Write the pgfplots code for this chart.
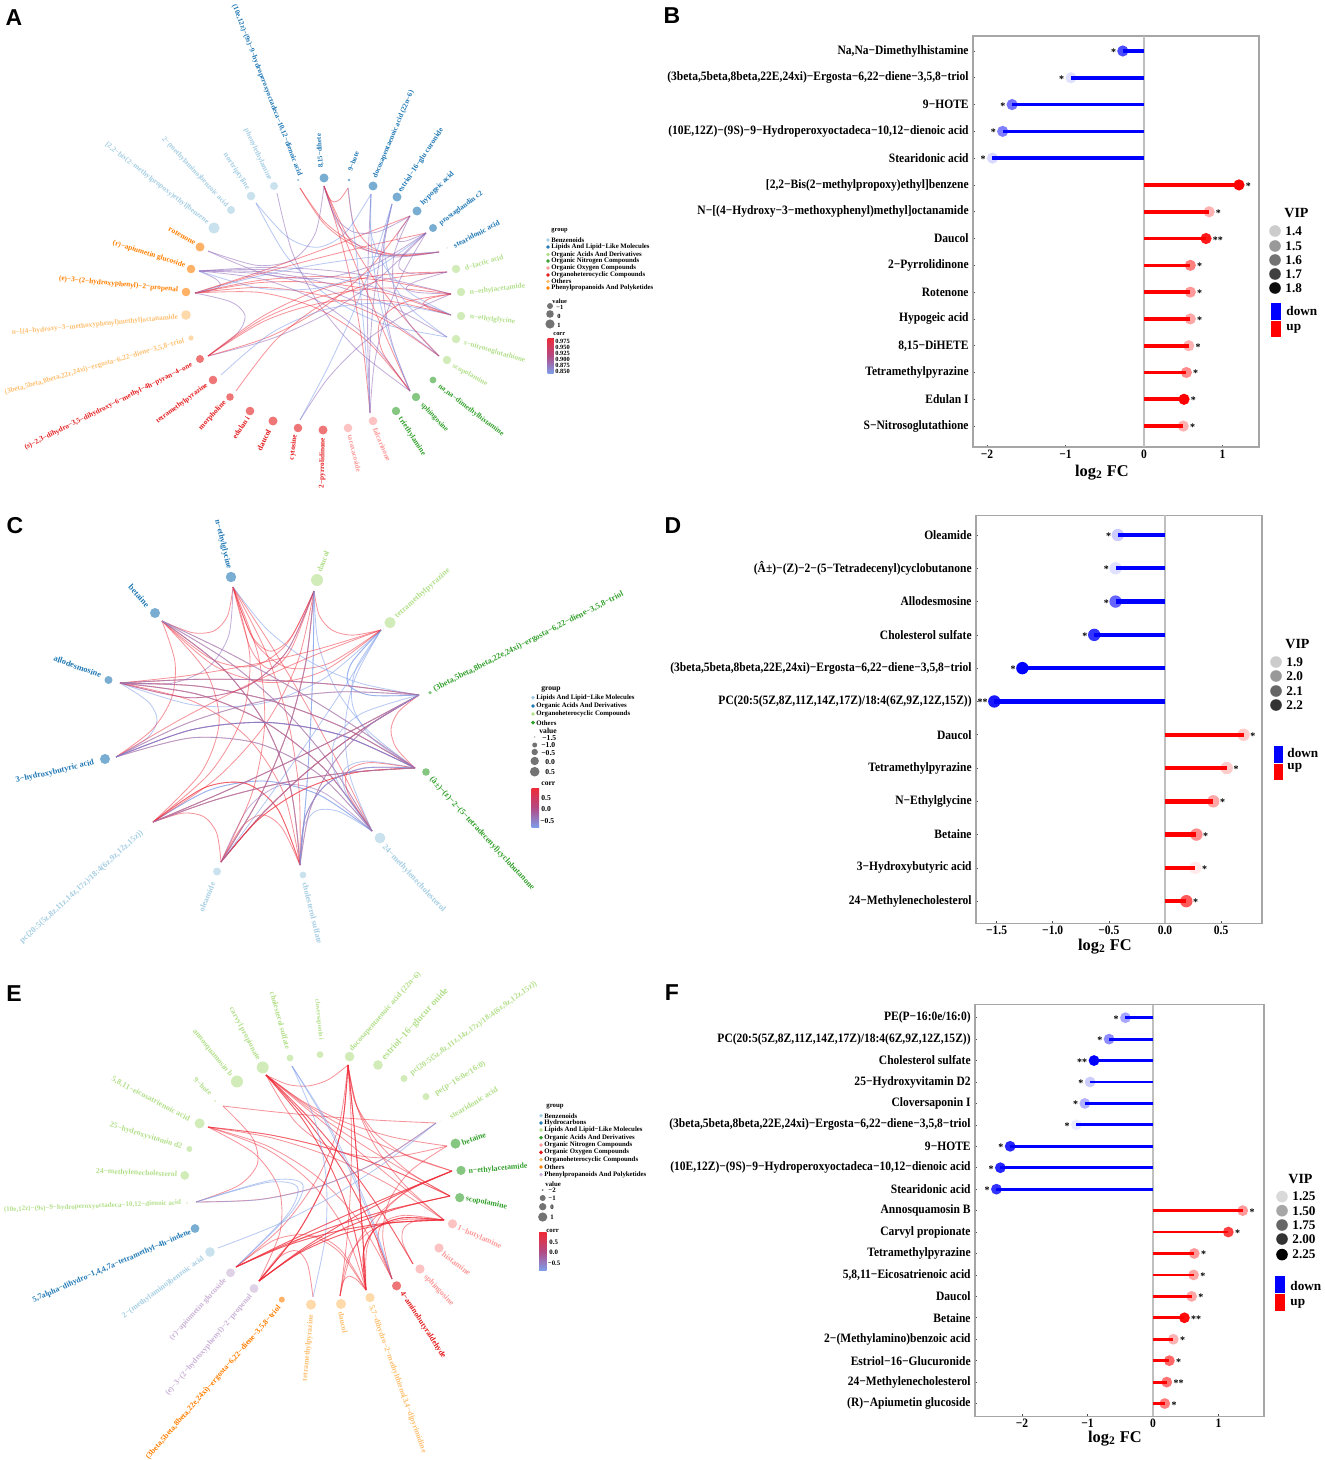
\documentclass[border=0pt]{standalone}
\usepackage{fontspec}
\usepackage{graphicx}
\usepackage{pgfplots}
\pgfplotsset{compat=1.18}
\setmainfont{Liberation Serif}
\newfontfamily\sansb{Liberation Sans}
\newfontfamily\tickf[FakeStretch=0.9]{Liberation Serif}

\definecolor{cbenz}{HTML}{A6CEE3}
\definecolor{clip}{HTML}{1F78B4}
\definecolor{cacid}{HTML}{B2DF8A}
\definecolor{cnit}{HTML}{33A02C}
\definecolor{coxy}{HTML}{FB9A99}
\definecolor{chet}{HTML}{E31A1C}
\definecolor{coth}{HTML}{FDBF6F}
\definecolor{cphe}{HTML}{FF7F00}
\definecolor{cpur}{HTML}{CAB2D6}
\definecolor{updn}{HTML}{0000FF}
\definecolor{lnr}{HTML}{EE2A38}
\definecolor{lnp}{HTML}{8A5FB4}
\definecolor{lnb}{HTML}{7E9CE8}

\tikzset{
  cr/.style={color=lnr,opacity=.5},
  cp/.style={color=lnp,opacity=.5},
  cb/.style={color=lnb,opacity=.55},
}

% one pixel of the reference is 0.5pt here
\newcommand\pt[3]{\expandafter\def\csname P#1x\endcsname{#2}\expandafter\def\csname P#1y\endcsname{#3}}
\newcommand\chord[4]{%
  \edef\ax{\csname P#1x\endcsname}\edef\ay{\csname P#1y\endcsname}%
  \edef\bx{\csname P#2x\endcsname}\edef\by{\csname P#2y\endcsname}%
  \pgfmathsetmacro\kx{(\ax+\bx)/2+#4*(\cx-(\ax+\bx)/2)+.15*(\by-\ay)}%
  \pgfmathsetmacro\ky{(\ay+\by)/2+#4*(\cy-(\ay+\by)/2)+.15*(\ax-\bx)}%
  \pgfmathsetmacro\pax{.5625*\ax+.375*\kx+.0625*\bx}%
  \pgfmathsetmacro\pay{.5625*\ay+.375*\ky+.0625*\by}%
  \pgfmathsetmacro\pbx{.25*\ax+.5*\kx+.25*\bx}%
  \pgfmathsetmacro\pby{.25*\ay+.5*\ky+.25*\by}%
  \pgfmathsetmacro\pcx{.0625*\ax+.375*\kx+.5625*\bx}%
  \pgfmathsetmacro\pcy{.0625*\ay+.375*\ky+.5625*\by}%
  \edef\tmp{\noexpand\addplot[smooth,line width=.42pt,#3] coordinates {(\ax,\ay)(\pax,\pay)(\pbx,\pby)(\pcx,\pcy)(\bx,\by)};}\tmp
}
\newcommand\fan[4]{\pgfplotsinvokeforeach{#4}{\chord{#1}{##1}{#2}{#3}}}
\newcommand\nd[4]{\addplot[only marks,mark=*,mark size=#3*0.5pt,color=#4,mark options={draw opacity=0,fill opacity=.6}] coordinates {(#1,#2)};}
% label text set along the line from its start to its end
\newcommand\lab[6]{%
  \pgfmathsetmacro\lmx{(#2+#4)/2}\pgfmathsetmacro\lmy{(#3+#5)/2}%
  \pgfmathsetmacro\lang{atan2(#3-#5,#4-#2)}%
  \pgfmathsetmacro\llen{.5*veclen(#4-#2,#5-#3)}%
  \edef\tmp{\noexpand\node[inner sep=0pt,rotate=\lang] at (axis cs:\lmx,\lmy) {\noexpand\resizebox{\llen pt}{!}{\noexpand\bfseries\noexpand\textcolor{#6}{\unexpanded{#1}}}};}\tmp
}
\newcommand\txt[4]{\node[anchor=west,inner sep=0pt,font=\fontsize{#4}{#4}\selectfont\bfseries] at (axis cs:#1,#2) {#3};}
\newcommand\grp[4]{\addplot[only marks,mark=*,mark size=.7pt,color=#4] coordinates {(#1-3,#2)};\txt{#1}{#2}{#3}{\gf}}
\newcommand\val[4]{\addplot[only marks,mark=*,mark size=#3*0.5pt,color=black,mark options={draw opacity=0,fill opacity=.55}] coordinates {(#1,#2)};}
\newcommand\cbar[4]{\fill[top color=lnr,bottom color=lnb,middle color=lnp!60!lnr] (axis cs:#1,#2) rectangle (axis cs:#3,#4);}
\newcommand\vip[5]{\addplot[only marks,mark=*,mark size=2.9pt,color=black,mark options={draw opacity=0,fill opacity=#5}] coordinates {(#1,#2)};\txt{#1+10}{#2}{#3}{#4}}
\newcommand\swatch[5]{\addplot[fill=#5,draw=none] coordinates {(#1,#2)(#3,#2)(#3,#4)(#1,#4)} -- cycle;}

% lollipop rows: row, log2 FC, opacity from VIP, stars
\newcommand\dn[4]{%
  \addplot[only marks,mark=*,mark size=\dotr,color=updn,mark options={draw opacity=0,fill opacity=#3}] coordinates {(#2,#1)};
  \addplot[xcomb,color=updn,line width=\stem,no marks] coordinates {(#2,#1)};
  \node[inner sep=0pt,anchor=east,font=\fontsize{5}{5}\selectfont\bfseries] at (axis cs:#2,#1) [xshift=-3.2pt,yshift=-.6pt] {#4};}
\newcommand\up[4]{%
  \addplot[only marks,mark=*,mark size=\dotr,color=red,mark options={draw opacity=0,fill opacity=#3}] coordinates {(#2,#1)};
  \addplot[xcomb,color=red,line width=\stem,no marks] coordinates {(#2,#1)};
  \node[inner sep=0pt,anchor=west,font=\fontsize{5}{5}\selectfont\bfseries] at (axis cs:#2,#1) [xshift=3.2pt,yshift=-.6pt] {#4};}

\pgfplotsset{
  lolli/.style={
    scale only axis, y dir=reverse, clip=false,
    axis line style={draw=black!35,line width=.7pt},
    tick style={color=black!70,line width=.3pt},
    major tick length=1.2pt,
    xtick pos=lower, ytick pos=left,
    xticklabel pos=lower,
    tick label style={font=\fontsize{6.4}{6.4}\selectfont\bfseries\tickf,inner sep=1.2pt},
    yticklabel style={font=\fontsize{6.4}{6.4}\selectfont\bfseries\tickf,inner sep=2pt},
    xlabel style={font=\fontsize{8.2}{9}\selectfont\bfseries,anchor=north,inner sep=0pt},
  },
}

\begin{document}
\begin{tikzpicture}
\path[use as bounding box] (0,0) rectangle (662.5pt,730pt);

% panel B
\begin{axis}[lolli,at={(558pt,609.25pt)},anchor=center,width=143pt,height=205.5pt,
  xmin=-2.178,xmax=1.465,ymin=-0.56,ymax=14.78,
  xtick={-2,-1,0,1},xticklabels={−2,−1,0,1},
  ytick={0,...,14},
  yticklabels={{Na,Na−Dimethylhistamine},{(3beta,5beta,8beta,22E,24xi)−Ergosta−6,22−diene−3,5,8−triol},{9−HOTE},{(10E,12Z)−(9S)−9−Hydroperoxyoctadeca−10,12−dienoic acid},{Stearidonic acid},{[2,2−Bis(2−methylpropoxy)ethyl]benzene},{N−[(4−Hydroxy−3−methoxyphenyl)methyl]octanamide},{Daucol},{2−Pyrrolidinone},{Rotenone},{Hypogeic acid},{8,15−DiHETE},{Tetramethylpyrazine},{Edulan I},{S−Nitrosoglutathione}},
  xlabel={log\textsubscript{2} FC},
  xlabel style={at={(axis description cs:0.451,-0.042)}},
]
\def\dotr{2.8pt}\def\stem{1.8pt}
\addplot[color=black!25,line width=.6pt] coordinates {(0,-0.56)(0,14.78)};
\dn{0}{-0.27}{.7}{*}
\dn{1}{-0.93}{.12}{*}
\dn{2}{-1.68}{.55}{*}
\dn{3}{-1.80}{.5}{*}
\dn{4}{-1.93}{.15}{*}
\up{5}{1.21}{1}{*}
\up{6}{0.83}{.3}{*}
\up{7}{0.79}{.9}{**}
\up{8}{0.59}{.5}{*}
\up{9}{0.59}{.4}{*}
\up{10}{0.59}{.35}{*}
\up{11}{0.57}{.3}{*}
\up{12}{0.54}{.45}{*}
\up{13}{0.51}{1}{*}
\up{14}{0.50}{.3}{*}
\end{axis}

% panel D
\begin{axis}[lolli,at={(559.5pt,370.25pt)},anchor=center,width=143pt,height=204pt,
  xmin=-1.683,xmax=0.864,ymin=-0.586,ymax=11.67,
  xtick={-1.5,-1,-0.5,0,0.5},xticklabels={−1.5,−1.0,−0.5,0.0,0.5},
  ytick={0,...,11},
  yticklabels={{Oleamide},{(Â±)−(Z)−2−(5−Tetradecenyl)cyclobutanone},{Allodesmosine},{Cholesterol sulfate},{(3beta,5beta,8beta,22E,24xi)−Ergosta−6,22−diene−3,5,8−triol},{PC(20:5(5Z,8Z,11Z,14Z,17Z)/18:4(6Z,9Z,12Z,15Z))},{Daucol},{Tetramethylpyrazine},{N−Ethylglycine},{Betaine},{3−Hydroxybutyric acid},{24−Methylenecholesterol}},
  xlabel={log\textsubscript{2} FC},
  xlabel style={at={(axis description cs:0.451,-0.037)}},
]
\def\dotr{3.1pt}\def\stem{2.2pt}
\addplot[color=black!25,line width=.6pt] coordinates {(0,-0.586)(0,11.67)};
\dn{0}{-0.42}{.2}{*}
\dn{1}{-0.44}{.12}{*}
\dn{2}{-0.44}{.6}{*}
\dn{3}{-0.63}{.8}{*}
\dn{4}{-1.27}{1}{*}
\dn{5}{-1.52}{.9}{**}
\up{6}{0.70}{.2}{*}
\up{7}{0.55}{.2}{*}
\up{8}{0.43}{.35}{*}
\up{9}{0.28}{.45}{*}
\up{10}{0.27}{.08}{*}
\up{11}{0.19}{.65}{*}
\end{axis}

% panel F
\begin{axis}[lolli,at={(559.75pt,124.75pt)},anchor=center,width=144.5pt,height=205.9pt,
  xmin=-2.717,xmax=1.695,ymin=-0.61,ymax=18.6,
  xtick={-2,-1,0,1},xticklabels={−2,−1,0,1},
  ytick={0,...,18},
  yticklabels={{PE(P−16:0e/16:0)},{PC(20:5(5Z,8Z,11Z,14Z,17Z)/18:4(6Z,9Z,12Z,15Z))},{Cholesterol sulfate},{25−Hydroxyvitamin D2},{Cloversaponin I},{(3beta,5beta,8beta,22E,24xi)−Ergosta−6,22−diene−3,5,8−triol},{9−HOTE},{(10E,12Z)−(9S)−9−Hydroperoxyoctadeca−10,12−dienoic acid},{Stearidonic acid},{Annosquamosin B},{Carvyl propionate},{Tetramethylpyrazine},{5,8,11−Eicosatrienoic acid},{Daucol},{Betaine},{2−(Methylamino)benzoic acid},{Estriol−16−Glucuronide},{24−Methylenecholesterol},{(R)−Apiumetin glucoside}},
  xlabel={log\textsubscript{2} FC},
  xlabel style={at={(axis description cs:0.484,-0.034)}},
]
\def\dotr{2.7pt}\def\stem{1.4pt}
\addplot[color=black!25,line width=.6pt] coordinates {(0,-0.61)(0,18.6)};
\dn{0}{-0.42}{.35}{*}
\dn{1}{-0.67}{.45}{*}
\dn{2}{-0.90}{1}{**}
\dn{3}{-0.96}{.2}{*}
\dn{4}{-1.04}{.3}{*}
\dn{5}{-1.17}{.08}{*}
\dn{6}{-2.18}{.85}{*}
\dn{7}{-2.33}{.85}{*}
\dn{8}{-2.39}{.8}{*}
\up{9}{1.37}{.4}{*}
\up{10}{1.15}{.75}{*}
\up{11}{0.63}{.4}{*}
\up{12}{0.62}{.35}{*}
\up{13}{0.59}{.35}{*}
\up{14}{0.48}{.95}{**}
\up{15}{0.31}{.3}{*}
\up{16}{0.25}{.6}{*}
\up{17}{0.21}{.55}{**}
\up{18}{0.18}{.5}{*}
\end{axis}

% whole page in reference pixels: networks, legends, panel letters
\begin{axis}[at={(331.25pt,365pt)},anchor=center,scale only axis,width=662.5pt,height=730pt,
  xmin=0,xmax=1325,ymin=0,ymax=1460,y dir=reverse,hide axis,clip=false]

\foreach \l/\x/\y in {A/14/18,B/672/16,C/15/526,D/673/526,E/14/994,F/672/993}{
  \edef\tmp{\noexpand\node[font=\noexpand\fontsize{11.5}{12}\noexpand\selectfont\noexpand\sansb\noexpand\bfseries,inner sep=0pt] at (axis cs:\x,\y) {\l};}\tmp
}

% --- panel A network
\def\cx{322}\def\cy{299}
\pt{stear}{439}{252}\pt{prost}{426}{233}\pt{hypog}{410}{216}\pt{estri}{392}{204}
\pt{docos}{371}{194}\pt{hote}{348}{188}\pt{dihe}{324}{186}\pt{tene}{300}{188}
\pt{nort}{256}{203}\pt{phen}{277}{193}\pt{rot}{208}{251}\pt{apium}{199}{271}
\pt{ethr}{195}{293}\pt{pyran}{208}{356}\pt{tetra}{221}{375}\pt{morph}{236}{391}
\pt{cyto}{300}{420}\pt{falc}{370}{413}\pt{sphi}{410}{391}\pt{scop}{439}{356}
\pt{snit}{447}{337}\pt{gly}{451}{315}\pt{acet}{451}{294}\pt{lact}{447}{272}
\chord{stear}{tene}{cr}{.4}
\chord{stear}{tene}{cr}{.35}
\chord{stear}{hote}{cr}{.5}
\chord{stear}{dihe}{cp}{.5}
\chord{dihe}{hote}{cr}{.3}
\chord{docos}{nort}{cb}{.8}
\chord{snit}{nort}{cb}{.85}
\chord{sphi}{phen}{cp}{.85}
\chord{dihe}{rot}{cp}{.8}
\chord{prost}{rot}{cp}{.7}
\chord{ethr}{apium}{cp}{.4}
\chord{pyran}{ethr}{cp}{.8}
\fan{ethr}{cr}{.8}{prost,hypog,acet,gly,sphi,scop}
\fan{ethr}{cb}{.8}{stear}
\fan{apium}{cp}{.8}{gly,snit,scop,acet,sphi}
\chord{prost}{apium}{cb}{.8}
\fan{pyran}{cr}{.8}{acet,gly,lact}
\fan{prost}{cp}{.8}{pyran}
\chord{hypog}{pyran}{cr}{.8}
\chord{tetra}{gly}{cb}{.8}
\chord{morph}{lact}{cr}{.8}
\chord{acet}{cyto}{cp}{.85}
\fan{estri}{cp}{.8}{falc}
\fan{docos}{cp}{.8}{falc}
\fan{dihe}{cr}{.8}{falc,sphi,scop}
\fan{hote}{cb}{.8}{falc}
\chord{prost}{falc}{cp}{.7}
\fan{sphi}{cr}{.8}{acet}
\chord{estri}{sphi}{cp}{.8}
\chord{hypog}{scop}{cp}{.8}
\chord{acet}{gly}{cr}{.45}
\chord{lact}{acet}{cp}{.7}
\chord{lact}{prost}{cp}{.6}
\chord{hypog}{dihe}{cp}{.5}
\chord{prost}{hypog}{cp}{.4}
\fan{estri}{cb}{.8}{snit,cyto}
\fan{docos}{cb}{.8}{sphi,gly}
\nd{433}{228}{4}{clip}\nd{417}{211}{4.5}{clip}\nd{397}{197}{4.5}{clip}\nd{373}{186}{4.5}{clip}
\nd{349}{180}{1.3}{clip}\nd{324}{178}{4.5}{clip}\nd{298}{180}{1}{clip}\nd{447}{248}{.5}{clip}
\nd{274}{186}{4}{cbenz}\nd{251}{196}{4.3}{cbenz}\nd{231}{210}{4}{cbenz}\nd{214}{228}{5.6}{cbenz}
\nd{200}{247}{4.5}{cphe}\nd{191}{269}{4.3}{cphe}\nd{186}{292}{4.3}{cphe}
\nd{186}{315}{4.8}{coth}\nd{191}{338}{2.6}{coth}
\nd{200}{359}{4}{chet}\nd{213}{380}{4.3}{chet}\nd{230}{397}{3.8}{chet}\nd{250}{411}{4.3}{chet}
\nd{273}{421}{4.5}{chet}\nd{298}{428}{4.3}{chet}\nd{323}{430}{4.5}{chet}
\nd{348}{428}{4.3}{coxy}\nd{373}{421}{4.3}{coxy}
\nd{396}{411}{4.2}{cnit}\nd{416}{397}{4.2}{cnit}\nd{433}{380}{3.4}{cnit}
\nd{447}{360}{4.2}{cacid}\nd{456}{339}{4.2}{cacid}\nd{461}{316}{4.2}{cacid}\nd{461}{292}{4.2}{cacid}\nd{456}{269}{4.2}{cacid}
\lab{stearidonic acid}{454}{246}{499}{222}{clip}
\lab{prostaglandin c2}{440}{224}{482}{193}{clip}
\lab{hypogeic acid}{422}{204}{453}{173}{clip}
\lab{estriol−16−glu curonide}{400}{192}{442}{129}{clip}
\lab{docosapentaenoic acid (22n−6)}{375}{178}{412}{91}{clip}
\lab{9−hote}{350}{171}{357}{152}{clip}
\lab{8,15−dihete}{321}{168}{319}{134}{clip}
\lab{(10e,12z)−(9s)−9−hydroperoxyoctadeca−10,12−dienoic acid}{234}{5}{300}{176}{clip}
\lab{phenylethylamine}{246}{129}{270}{180}{cbenz}
\lab{nortriptyline}{225}{154}{248}{189}{cbenz}
\lab{2−(methylamino)benzoic acid}{163}{138}{227}{206}{cbenz}
\lab{[2,2−bis(2−methylpropoxy)ethyl]benzene}{106}{144}{208}{223}{cbenz}
\lab{rotenone}{169}{229}{195}{243}{cphe}
\lab{(r)−apiumetin glucoside}{113}{243}{185}{266}{cphe}
\lab{(e)−3−(2−hydroxyphenyl)−2−propenal}{59}{279}{178}{290}{cphe}
\lab{n−[(4−hydroxy−3−methoxyphenyl)methyl]octanamide}{12}{333}{178}{317}{coth}
\lab{(3beta,5beta,8beta,22z,24xi)−ergosta−6,22−diene−3,5,8−triol}{5}{393}{184}{341}{coth}
\lab{(s)−2,3−dihydro−3,5−dihydroxy−6−methyl−4h−pyran−4−one}{25}{448}{192}{365}{chet}
\lab{tetramethylpyrazine}{157}{422}{207}{385}{chet}
\lab{morpholine}{200}{429}{225}{402}{chet}
\lab{edulan i}{234}{438}{248}{417}{chet}
\lab{daucol}{259}{450}{269}{430}{chet}
\lab{cytosine}{292}{460}{295}{435}{chet}
\lab{2−pyrrolidinone}{322}{488}{323}{438}{chet}
\lab{taraxacoside}{350}{435}{359}{472}{coxy}
\lab{falcarinone}{375}{428}{389}{461}{coxy}
\lab{triethylamine}{400}{418}{424}{455}{cnit}
\lab{sphingosine}{422}{404}{447}{431}{cnit}
\lab{na,na−dimethylhistamine}{439}{386}{503}{435}{cnit}
\lab{scopolamine}{453}{366}{487}{384}{cacid}
\lab{s−nitrosoglutathione}{464}{343}{525}{361}{cacid}
\lab{n−ethylglycine}{470}{317}{515}{322}{cacid}
\lab{n−ethylacetamide}{470}{293}{525}{286}{cacid}
\lab{d−lactic acid}{465}{268}{503}{257}{cacid}

\def\gf{3.2}
\txt{551}{231}{group}{3.2}
\grp{551}{240}{Benzenoids}{cbenz}
\grp{551}{247}{Lipids And Lipid−Like Molecules}{clip}
\grp{551}{254.5}{Organic Acids And Derivatives}{cacid}
\grp{551}{261}{Organic Nitrogen Compounds}{cnit}
\grp{551}{268}{Organic Oxygen Compounds}{coxy}
\grp{551}{275}{Organoheterocyclic Compounds}{chet}
\grp{551}{281.5}{Others}{coth}
\grp{551}{288}{Phenylpropanoids And Polyketides}{cphe}
\txt{552}{301}{value}{3.2}
\val{550}{306}{3}{}\txt{556}{307}{−1}{3.2}
\val{550}{314}{3.8}{}\txt{557}{316}{0}{3.2}
\val{550}{324}{4.6}{}\txt{557}{325}{1}{3.2}
\txt{553}{334}{corr}{3.2}
\cbar{547.5}{338}{553.5}{373}
\txt{555}{341}{0.975}{3.2}\txt{555}{347}{0.950}{3.2}\txt{555}{353}{0.925}{3.2}
\txt{555}{359}{0.900}{3.2}\txt{555}{365}{0.875}{3.2}\txt{555}{371}{0.850}{3.2}

% --- panel C network
\def\cx{267}\def\cy{721}
\pt{t}{162}{621}\pt{g}{233}{587}\pt{u}{314}{591}\pt{y}{381}{630}\pt{e}{419}{695}\pt{d}{415}{768}
\pt{m}{372}{831}\pt{s}{300}{865}\pt{o}{221}{862}\pt{c}{153}{822}\pt{h}{116}{757}\pt{a}{120}{683}
\chord{t}{g}{cr}{.55}
\chord{g}{a}{cp}{.55}
\chord{g}{u}{cr}{1.3}
\chord{u}{y}{cr}{.45}
\chord{e}{d}{cr}{.42}
\chord{a}{h}{cb}{.45}
\chord{t}{h}{cr}{.35}
\chord{o}{c}{cr}{.5}
\chord{s}{m}{cb}{.5}
\chord{o}{s}{cr}{.6}
\fan{c}{cb}{.55}{m,m}
\fan{c}{cr}{.8}{s,s}
\chord{o}{m}{cp}{.8}
\fan{y}{cb}{.85}{d,e,e,a}
\fan{y}{cr}{.85}{g,t}
\fan{u}{cr}{.85}{t,a,c,o,o,g}
\fan{u}{cb}{.85}{s,s,o,d}
\fan{u}{cp}{.85}{a}
\fan{g}{cr}{.85}{s,m,o,c}
\fan{g}{cb}{.85}{e}
\fan{t}{cr}{.85}{m,d,s,s,c}
\fan{t}{cb}{.85}{s,m,d}
\fan{a}{cr}{.85}{d,d,e,e,m,s,m,y}
\fan{a}{cb}{.85}{e,m,d}
\fan{h}{cr}{.85}{e,d,y,m}
\fan{h}{cb}{.85}{e,d,d,m}
\fan{h}{cp}{.85}{d}
\fan{e}{cr}{.85}{c,c,o,o,s,o}
\fan{e}{cb}{.85}{c,s,o}
\fan{d}{cr}{.85}{c,c,o,o,s}
\fan{d}{cb}{.85}{c,m,s}
\fan{y}{cb}{.85}{o,m}
\chord{d}{m}{cr}{.8}
\chord{d}{s}{cb}{.85}
\chord{m}{e}{cb}{.8}
\nd{231}{577}{5.2}{clip}\nd{155}{613}{5}{clip}\nd{108.5}{680}{4}{clip}\nd{105}{759}{5}{clip}
\nd{146}{829}{.5}{cbenz}\nd{217}{871.5}{4}{cbenz}\nd{303}{875}{3.4}{cbenz}\nd{380}{838}{5.4}{cbenz}
\nd{426}{772}{3.8}{cnit}\nd{430}{692.7}{1.8}{cnit}
\nd{390}{622.6}{5.6}{cacid}\nd{317}{580}{6}{cacid}
\lab{n−ethylglycine}{217}{520}{229}{569}{clip}
\lab{betaine}{130}{586}{148}{606}{clip}
\lab{allodesmosine}{54}{658}{101}{675}{clip}
\lab{3−hydroxybutyric acid}{16}{781}{94}{762.5}{clip}
\lab{pc(20:5(5z,8z,11z,14z,17z)/18:4(6z,9z,12z,15z))}{21}{942}{142}{832}{cbenz}
\lab{oleamide}{201}{911}{213}{882.6}{cbenz}
\lab{cholesterol sulfate}{305}{882.6}{320}{943.7}{cbenz}
\lab{24−methylenecholesterol}{383.5}{846}{444}{911}{cbenz}
\lab{(â±)−(z)−2−(5−tetradecenyl)cyclobutanone}{431}{778.6}{533}{889}{cnit}
\lab{(3beta,5beta,8beta,22e,24xi)−ergosta−6,22−diene−3,5,8−triol}{434}{690}{623}{594}{cnit}
\lab{tetramethylpyrazine}{396}{617}{449}{570}{cacid}
\lab{daucol}{319}{572}{327}{551}{cacid}

\def\gf{3.85}
\txt{541}{689}{group}{3.8}
\grp{536}{697.7}{Lipids And Lipid−Like Molecules}{cbenz}
\grp{536}{706}{Organic Acids And Derivatives}{clip}
\grp{536}{714}{Organoheterocyclic Compounds}{cacid}
\grp{536}{722.7}{Others}{cnit}
\txt{539}{731}{value}{3.8}
\val{534.7}{737}{.6}{}\txt{542}{738}{−1.5}{3.8}
\val{534.7}{745}{2.5}{}\txt{541}{745.5}{−1.0}{3.8}
\val{534.7}{752}{3.2}{}\txt{541}{753}{−0.5}{3.8}
\val{534.7}{761}{4.2}{}\txt{545}{762}{0.0}{3.8}
\val{534.7}{771.7}{4.8}{}\txt{545}{772}{0.5}{3.8}
\txt{541}{784}{corr}{3.8}
\cbar{531.5}{788}{539}{827}
\txt{541}{798}{0.5}{3.8}\txt{541}{809}{0.0}{3.8}\txt{540}{821}{−0.5}{3.8}

% --- panel E network
\def\cx{318}\def\cy{1175}
\pt{st}{436}{1123}\pt{ho}{223}{1106}\pt{ei}{208}{1127}\pt{te}{196}{1202}\pt{ma}{218}{1248}
\pt{ap}{236}{1267}\pt{hp}{259}{1281}\pt{tm}{313}{1297}\pt{da}{340}{1296}\pt{th}{366}{1290}
\pt{am}{392}{1279}\pt{sp}{413}{1264}\pt{bu}{444}{1220}\pt{sc}{450}{1196}\pt{ea}{452}{1171}
\pt{be}{447}{1146}\pt{dc}{348}{1065}\pt{ch}{292}{1066}\pt{cv}{266}{1075}
\chord{cv}{dc}{cr}{.42}
\fan{cv}{cr}{.8}{am,sp,th,th,bu,sc,ea,am,sp,be}
\fan{dc}{cr}{.8}{th,th,hp,hp,hp,da,ap,th,ea,sc,bu}
\fan{ei}{cr}{.8}{bu,am,hp,th,sc,sc}
\chord{ho}{te}{cr}{.75}
\chord{ho}{st}{cr}{.6}
\chord{st}{te}{cr}{.75}
\chord{st}{te}{cb}{.8}
\chord{te}{ap}{cb}{1.5}
\chord{te}{ap}{cb}{1.6}
\chord{ch}{am}{cb}{.7}
\chord{ch}{tm}{cb}{.8}
\chord{ch}{am}{cb}{.85}
\chord{st}{ma}{cb}{1}
\fan{bu}{cr}{.8}{hp,ap,th,am,da,hp,ap,th,th}
\chord{bu}{sp}{cr}{.5}
\fan{ea}{cr}{.8}{ap,hp,hp,da,th,ap}
\fan{sc}{cr}{.8}{ap,hp,hp,ap}
\chord{da}{th}{cr}{.25}
\chord{be}{cv}{cr}{.8}
\chord{hp}{tm}{cr}{.6}
\chord{ap}{th}{cr}{.65}
\chord{hp}{th}{cr}{.75}
\chord{be}{am}{cr}{.8}
\nd{441}{1121}{.5}{cacid}\nd{426}{1096.6}{3.5}{cacid}\nd{404}{1078.5}{3.5}{cacid}\nd{378}{1065}{4.8}{cacid}
\nd{349.6}{1056.6}{4.8}{cacid}\nd{320}{1054.6}{3.4}{cacid}\nd{290}{1058}{3.4}{cacid}\nd{262.7}{1067.4}{6}{cacid}
\nd{237}{1081.5}{6}{cacid}\nd{215}{1101}{1}{cacid}\nd{199.6}{1123.4}{5}{cacid}\nd{189.4}{1149}{3}{cacid}
\nd{184.7}{1175.4}{4.4}{cacid}\nd{187}{1203}{.8}{cacid}
\nd{195}{1228.5}{4.4}{clip}\nd{210}{1252}{4.8}{cbenz}\nd{230.5}{1272.8}{4.4}{cpur}\nd{254}{1288.5}{4.4}{cpur}
\nd{281.8}{1299.6}{3}{cphe}\nd{311}{1304.6}{5}{coth}\nd{341}{1304}{5}{coth}\nd{370}{1297.6}{4.6}{coth}
\nd{396.6}{1285.8}{4.6}{chet}\nd{420}{1269}{4.6}{coxy}\nd{439}{1248}{4.6}{coxy}\nd{452.5}{1223.8}{4.6}{coxy}
\nd{459.7}{1197.6}{4.6}{cnit}\nd{461}{1170.4}{4.6}{cnit}\nd{455.5}{1143.6}{5}{cnit}
\lab{stearidonic acid}{450}{1117}{497}{1089}{cacid}
\lab{pe(p−16:0e/16:0)}{435.6}{1094}{485}{1063}{cacid}
\lab{pc(20:5(5z,8z,11z,14z,17z)/18:4(6z,9z,12z,15z))}{411}{1074}{536}{983}{cacid}
\lab{estriol−16−glucur onide}{383.5}{1059}{447}{989.5}{cacid}
\lab{docosapentaenoic acid (22n−6)}{351}{1050.6}{419.5}{972.8}{cacid}
\lab{cloversaponin i}{317}{999.6}{321}{1040.5}{cacid}
\lab{cholesterol sulfate}{272.5}{992}{288}{1049}{cacid}
\lab{carvyl propionate}{231}{1008}{258.5}{1060}{cacid}
\lab{annosquamosin b}{194}{1030}{231}{1076}{cacid}
\lab{9−hote}{195}{1079}{211}{1094}{cacid}
\lab{5,8,11−eicosatrienoic acid}{112}{1079}{189.4}{1119.4}{cacid}
\lab{25−hydroxyvitamin d2}{110}{1125}{182}{1147}{cacid}
\lab{24−methylenecholesterol}{96}{1171.4}{177}{1175}{cacid}
\lab{(10e,12z)−(9s)−9−hydroperoxyoctadeca−10,12−dienoic acid}{4}{1210}{181}{1203}{cacid}
\lab{5,7alpha−dihydro−1,4,4,7a−tetramethyl−4h−indene}{33}{1300.6}{190.7}{1232}{clip}
\lab{2−(methylamino)benzoic acid}{123}{1316.7}{203.4}{1258}{cbenz}
\lab{(r)−apiumetin glucoside}{171}{1339}{225.4}{1279.5}{cpur}
\lab{(e)−3−(2−hydroxyphenyl)−2−propenal}{167}{1394.6}{251}{1295}{cpur}
\lab{(3beta,5beta,8beta,22e,24xi)−ergosta−6,22−diene−3,5,8−triol}{147.5}{1458}{279.7}{1307}{cphe}
\lab{tetramethylpyrazine}{305}{1381}{311.4}{1315}{coth}
\lab{daucol}{341}{1311.7}{345}{1333}{coth}
\lab{5,7−dihydro−2−methylthieno[3,4−d]pyrimidine}{371}{1305.6}{424}{1452.6}{coth}
\lab{4−aminobutyraldehyde}{401.7}{1292}{444}{1357.7}{chet}
\lab{sphingosine}{425}{1276}{452.5}{1305}{coxy}
\lab{histamine}{443}{1253.6}{470}{1273.8}{coxy}
\lab{1−butylamine}{457.6}{1227.8}{501}{1247}{coxy}
\lab{scopolamine}{466}{1199}{507}{1207}{cnit}
\lab{n−ethylacetamide}{468.6}{1171.4}{527.5}{1166.4}{cnit}
\lab{betaine}{462}{1143}{485.6}{1134.5}{cnit}

\def\gf{3.4}
\txt{546}{1106.7}{group}{3.4}
\grp{544}{1115.7}{Benzenoids}{cbenz}
\grp{544}{1123}{Hydrocarbons}{clip}
\grp{544}{1130}{Lipids And Lipid−Like Molecules}{cacid}
\grp{544}{1137.7}{Organic Acids And Derivatives}{cnit}
\grp{544}{1145}{Organic Nitrogen Compounds}{coxy}
\grp{544}{1152.3}{Organic Oxygen Compounds}{chet}
\grp{544}{1159.7}{Organoheterocyclic Compounds}{coth}
\grp{544}{1167}{Others}{cphe}
\grp{544}{1174.7}{Phenylpropanoids And Polyketides}{cpur}
\txt{545}{1184.3}{value}{3.4}
\val{542.7}{1190}{1}{}\txt{548}{1190.5}{−2}{3.4}
\val{542.7}{1198}{3}{}\txt{548}{1198}{−1}{3.4}
\val{542.7}{1206.7}{3.7}{}\txt{550}{1207}{0}{3.4}
\val{542.7}{1217}{4.6}{}\txt{550}{1217.5}{1}{3.4}
\txt{546}{1230.7}{corr}{3.4}
\cbar{539}{1232.7}{546.7}{1270}
\txt{549}{1242}{0.5}{3.4}\txt{549}{1252.7}{0.0}{3.4}\txt{547.5}{1263}{−0.5}{3.4}

% --- VIP legends
\txt{1284}{213}{VIP}{7}
\vip{1275}{231}{1.4}{6.6}{.2}\vip{1275}{246}{1.5}{6.6}{.4}\vip{1275}{260}{1.6}{6.6}{.55}\vip{1275}{274}{1.7}{6.6}{.75}\vip{1275}{288}{1.8}{6.6}{.95}
\swatch{1271}{303}{1281}{320}{updn}\swatch{1271}{321}{1281}{337}{red}
\txt{1286}{311}{down}{6.6}\txt{1286}{329}{up}{6.6}

\txt{1285}{644}{VIP}{7}
\vip{1276}{662}{1.9}{6.6}{.2}\vip{1276}{676}{2.0}{6.6}{.4}\vip{1276}{691}{2.1}{6.6}{.6}\vip{1276}{705}{2.2}{6.6}{.8}
\swatch{1273.5}{746}{1283}{762.5}{updn}\swatch{1273.5}{763.5}{1283}{780}{red}
\txt{1287}{753}{down}{6.6}\txt{1287}{768}{up}{6.6}

\txt{1288}{1179}{VIP}{7}
\vip{1282}{1196.6}{1.25}{6.6}{.15}\vip{1282}{1210.7}{1.50}{6.6}{.35}\vip{1282}{1225}{1.75}{6.6}{.6}\vip{1282}{1239}{2.00}{6.6}{.8}\vip{1282}{1254.6}{2.25}{6.6}{1}
\swatch{1275}{1275.5}{1285}{1292.5}{updn}\swatch{1275}{1294}{1285}{1311}{red}
\txt{1290}{1286}{down}{6.6}\txt{1290}{1304}{up}{6.6}
\end{axis}
\end{tikzpicture}
\end{document}
